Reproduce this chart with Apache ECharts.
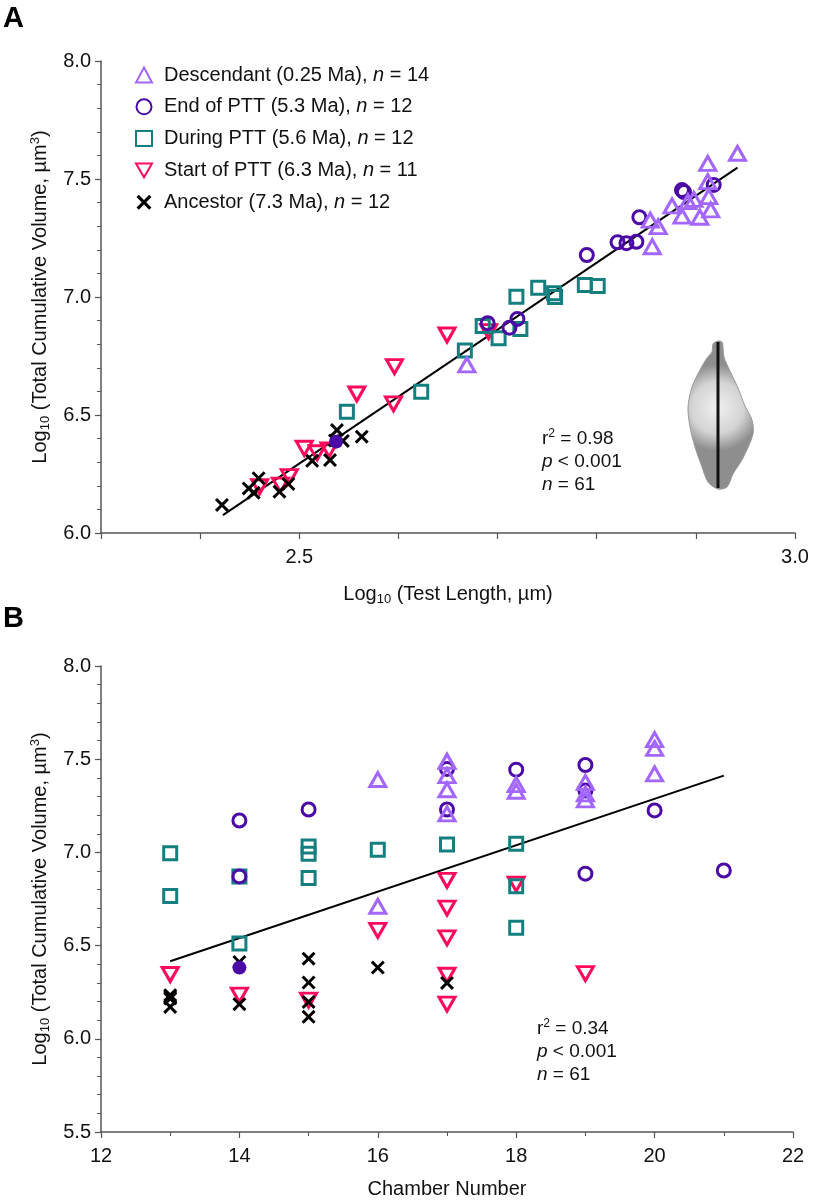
<!DOCTYPE html>
<html>
<head>
<meta charset="utf-8">
<script src="https://cdn.jsdelivr.net/npm/echarts@6/dist/echarts.min.js"></script>
<style>
  html, body { margin: 0; padding: 0; background: #fff; }
  #main { width: 820px; height: 1202px; }
</style>
</head>
<body>
<div id="main"></div>
<script>
// group names + sample sizes (legend)
var groups = ['Descendant (0.25 Ma)', 'End of PTT (5.3 Ma)', 'During PTT (5.6 Ma)', 'Start of PTT (6.3 Ma)', 'Ancestor (7.3 Ma)'];
var groupN = [14, 12, 12, 11, 12];

// panel A: log10 test length vs log10 total cumulative volume
var descLenA = [2.942, 2.912, 2.912, 2.913, 2.915, 2.904, 2.886, 2.898, 2.892, 2.876, 2.862, 2.854, 2.856, 2.669];
var descVolA = [7.609, 7.566, 7.489, 7.425, 7.369, 7.338, 7.343, 7.414, 7.404, 7.386, 7.298, 7.326, 7.213, 6.712];
var endLenA = [2.690, 2.712, 2.720, 2.790, 2.821, 2.830, 2.840, 2.843, 2.886, 2.888, 2.918];
var endVolA = [6.889, 6.870, 6.907, 7.178, 7.232, 7.228, 7.234, 7.338, 7.453, 7.445, 7.475];
var endFilledA = [2.537, 6.387];
var durLenA = [2.548, 2.623, 2.667, 2.685, 2.701, 2.719, 2.723, 2.741, 2.757, 2.758, 2.788, 2.801];
var durVolA = [6.514, 6.599, 6.773, 6.877, 6.825, 7.001, 6.864, 7.039, 7.016, 7.000, 7.051, 7.047];
var startLenA = [2.460, 2.481, 2.490, 2.505, 2.518, 2.530, 2.558, 2.595, 2.596, 2.649, 2.691];
var startVolA = [6.196, 6.203, 6.239, 6.359, 6.340, 6.352, 6.589, 6.547, 6.705, 6.839, 6.853];
var ancLenA = [2.422, 2.449, 2.454, 2.459, 2.480, 2.489, 2.513, 2.531, 2.538, 2.544, 2.563, 2.536];
var ancVolA = [6.119, 6.189, 6.171, 6.232, 6.175, 6.208, 6.306, 6.309, 6.436, 6.390, 6.408, 6.392];
var fitLenA = [2.423, 2.942];
var fitVolA = [6.076, 7.548];

// panel B: chamber number vs log10 total cumulative volume
var descChB = [16, 16, 17, 17, 17, 17, 18, 18, 19, 19, 19, 20, 20, 20];
var descVolB = [7.391, 6.711, 7.489, 7.412, 7.336, 7.207, 7.364, 7.328, 7.376, 7.314, 7.282, 7.605, 7.558, 7.421];
var endChB = [14, 14, 15, 17, 17, 18, 19, 19, 19, 20, 21];
var endVolB = [7.171, 6.871, 7.230, 7.448, 7.230, 7.444, 7.469, 7.332, 6.886, 7.225, 6.903];
var endFilledB = [14, 6.382];
var durChB = [13, 13, 14, 14, 15, 15, 15, 16, 17, 18, 18, 18];
var durVolB = [6.996, 6.766, 6.871, 6.511, 7.032, 6.993, 6.862, 7.014, 7.043, 7.046, 6.819, 6.596];
var startChB = [13, 14, 15, 16, 17, 17, 17, 17, 17, 18, 19];
var startVolB = [6.345, 6.234, 6.207, 6.582, 6.850, 6.701, 6.541, 6.341, 6.186, 6.83, 6.350];
var ancChB = [13, 13, 13, 13, 14, 14, 15, 15, 15, 15, 16, 17];
var ancVolB = [6.234, 6.216, 6.225, 6.171, 6.412, 6.186, 6.430, 6.302, 6.198, 6.118, 6.382, 6.300];
var fitChB = [13, 21];
var fitVolB = [6.416, 7.412];

var xTicksA = [2.5, 3.0];

var FONT = '"Liberation Sans", Arial, sans-serif';
var colors = ['#a366ff', '#4b0aa6', '#157f7f', '#ff0a5a', '#000000'];
var crossPath = 'path://M3,0 L10,7 L17,0 L20,3 L13,10 L20,17 L17,20 L10,13 L3,20 L0,17 L7,10 L0,3 Z';
var downTri = 'path://M0,0 L20,0 L10,17.3 Z';

function zip(xs, ys) {
    return xs.map(function (x, i) { return [x, ys[i]]; });
}

function hollow(name, idx, data, symbol, size) {
    return {
        name: name,
        type: 'scatter',
        xAxisIndex: idx,
        yAxisIndex: idx,
        data: data,
        symbol: symbol,
        symbolSize: size,
        itemStyle: { color: 'rgba(255,255,255,0)', borderColor: colors[groups.indexOf(name)], borderWidth: 3, opacity: 1 }
    };
}

function panelSeries(idx, d) {
    return [
        hollow(groups[3], idx, zip(d.startX, d.startY), downTri, [16, 14]),
        {
            name: groups[4], type: 'scatter', xAxisIndex: idx, yAxisIndex: idx,
            data: zip(d.ancX, d.ancY), symbol: crossPath, symbolSize: 14,
            itemStyle: { color: '#000', opacity: 1 }
        },
        hollow(groups[2], idx, zip(d.durX, d.durY), 'rect', 13),
        hollow(groups[1], idx, zip(d.endX, d.endY), 'circle', 13),
        hollow(groups[0], idx, zip(d.descX, d.descY), 'triangle', [16, 14]),
        {
            name: 'filled', type: 'scatter', xAxisIndex: idx, yAxisIndex: idx,
            data: [d.filled], symbol: 'circle', symbolSize: 14,
            itemStyle: { color: colors[1], opacity: 1 }
        },
        {
            name: 'fit', type: 'line', xAxisIndex: idx, yAxisIndex: idx,
            data: zip(d.fitX, d.fitY), symbol: 'none',
            lineStyle: { color: '#000', width: 2 }, z: 1
        }
    ];
}

var axisLineStyle = { show: true, onZero: false, lineStyle: { color: '#555', width: 1.5 } };
var tickStyle = { show: true, length: 6, lineStyle: { color: '#555', width: 1.2 } };
var minorStyle = function (n) {
    return { show: true, splitNumber: n, length: 4, lineStyle: { color: '#555', width: 1 } };
};
var nameRich = {
    a: { fontSize: 20, fontFamily: FONT, color: '#111' },
    s: { fontSize: 13, fontFamily: FONT, color: '#111', padding: [10, 0, 0, 0] },
    p: { fontSize: 13, fontFamily: FONT, color: '#111', padding: [0, 0, 10, 0] }
};
var yName = '{a|Log}{s|10}{a| (Total Cumulative Volume, µm}{p|3}{a|)}';

function yAxis(idx, min) {
    return {
        gridIndex: idx, type: 'value', min: min, max: 8, interval: 0.5,
        axisLine: axisLineStyle, axisTick: tickStyle, minorTick: minorStyle(5),
        splitLine: { show: false },
        axisLabel: { fontSize: 20, color: '#111', fontFamily: FONT, margin: 10,
            formatter: function (v) { return v.toFixed(1); } },
        name: yName, nameLocation: 'middle', nameRotate: 90, nameGap: 48,
        nameTextStyle: { rich: nameRich }
    };
}

var chart = echarts.init(document.getElementById('main'));

var option = {
    animation: false,
    backgroundColor: '#fff',
    textStyle: { fontFamily: FONT },
    grid: [
        { left: 101, top: 61, width: 694, height: 472 },
        { left: 101, top: 666, width: 692, height: 466 }
    ],
    legend: {
        data: groups,
        orient: 'vertical',
        left: 130,
        top: 59,
        itemWidth: 16,
        itemHeight: 15,
        itemGap: 9.8,
        formatter: function (name) {
            return name + ', {i|n} = ' + groupN[groups.indexOf(name)];
        },
        textStyle: {
            fontSize: 20, fontFamily: FONT, color: '#111', lineHeight: 22,
            padding: [0, 0, 0, 7],
            rich: { i: { fontSize: 20, fontFamily: FONT, color: '#111', fontStyle: 'italic' } }
        }
    },
    xAxis: [
        {
            gridIndex: 0, type: 'value', min: 2.3, max: 3.0, interval: 0.1,
            axisLine: axisLineStyle, axisTick: tickStyle, splitLine: { show: false },
            axisLabel: {
                fontSize: 20, color: '#111', fontFamily: FONT, margin: 14,
                formatter: function (v) {
                    for (var i = 0; i < xTicksA.length; i++) {
                        if (Math.abs(v - xTicksA[i]) < 1e-6) return xTicksA[i].toFixed(1);
                    }
                    return '';
                }
            },
            name: '{a|Log}{s|10}{a| (Test Length, µm)}', nameLocation: 'middle', nameGap: 50,
            nameTextStyle: { rich: nameRich }
        },
        {
            gridIndex: 1, type: 'value', min: 12, max: 22, interval: 2,
            axisLine: axisLineStyle, axisTick: tickStyle, minorTick: minorStyle(2),
            splitLine: { show: false },
            axisLabel: { fontSize: 20, color: '#111', fontFamily: FONT, margin: 14 },
            name: 'Chamber Number', nameLocation: 'middle', nameGap: 47,
            nameTextStyle: { fontSize: 20, color: '#111', fontFamily: FONT }
        }
    ],
    yAxis: [yAxis(0, 6), yAxis(1, 5.5)],
    series: panelSeries(0, {
        startX: startLenA, startY: startVolA, ancX: ancLenA, ancY: ancVolA,
        durX: durLenA, durY: durVolA, endX: endLenA, endY: endVolA,
        descX: descLenA, descY: descVolA, filled: endFilledA, fitX: fitLenA, fitY: fitVolA
    }).concat(panelSeries(1, {
        startX: startChB, startY: startVolB, ancX: ancChB, ancY: ancVolB,
        durX: durChB, durY: durVolB, endX: endChB, endY: endVolB,
        descX: descChB, descY: descVolB, filled: endFilledB, fitX: fitChB, fitY: fitVolB
    })),
    graphic: [
        { type: 'text', left: 3, top: 4, style: { text: 'A', font: 'bold 29px ' + FONT, fill: '#000' } },
        { type: 'text', left: 3, top: 604, style: { text: 'B', font: 'bold 29px ' + FONT, fill: '#000' } },
        {
            type: 'text', left: 542, top: 428,
            style: {
                text: '{t|r}{u|2}{t| = 0.98}\n{i|p}{t| < 0.001}\n{i|n}{t| = 61}',
                rich: {
                    t: { fontSize: 19, fontFamily: FONT, fill: '#111', lineHeight: 23 },
                    i: { fontSize: 19, fontFamily: FONT, fill: '#111', fontStyle: 'italic', lineHeight: 23 },
                    u: { fontSize: 12, fontFamily: FONT, fill: '#111', padding: [0, 0, 10, 0] }
                }
            }
        },
        {
            type: 'text', left: 537, top: 1018,
            style: {
                text: '{t|r}{u|2}{t| = 0.34}\n{i|p}{t| < 0.001}\n{i|n}{t| = 61}',
                rich: {
                    t: { fontSize: 19, fontFamily: FONT, fill: '#111', lineHeight: 23 },
                    i: { fontSize: 19, fontFamily: FONT, fill: '#111', fontStyle: 'italic', lineHeight: 23 },
                    u: { fontSize: 12, fontFamily: FONT, fill: '#111', padding: [0, 0, 10, 0] }
                }
            }
        },
        // foram test sketch
        {
            type: 'polygon',
            shape: {
                smooth: 0.3,
                points: [[718, 341], [713, 344], [712, 352], [707, 358], [700, 370], [692, 387], [688, 407],
                    [690, 427], [695, 447], [702, 467], [708, 482], [718, 489], [727, 487], [733, 474],
                    [743, 458], [753, 434], [752, 420], [745, 406], [738, 388], [730, 371], [724, 357],
                    [723, 347], [722, 342]]
            },
            style: {
                fill: new echarts.graphic.RadialGradient(0.45, 0.45, 0.65, [
                    { offset: 0, color: '#f0f0f0' },
                    { offset: 0.6, color: '#d4d4d4' },
                    { offset: 1, color: '#8e8e8e' }
                ]),
                stroke: '#9a9a9a', lineWidth: 1
            }
        },
        {
            type: 'line',
            shape: { x1: 718, y1: 342, x2: 718, y2: 488 },
            style: { stroke: '#111', lineWidth: 3 }
        }
    ]
};

chart.setOption(option);
</script>
</body>
</html>
